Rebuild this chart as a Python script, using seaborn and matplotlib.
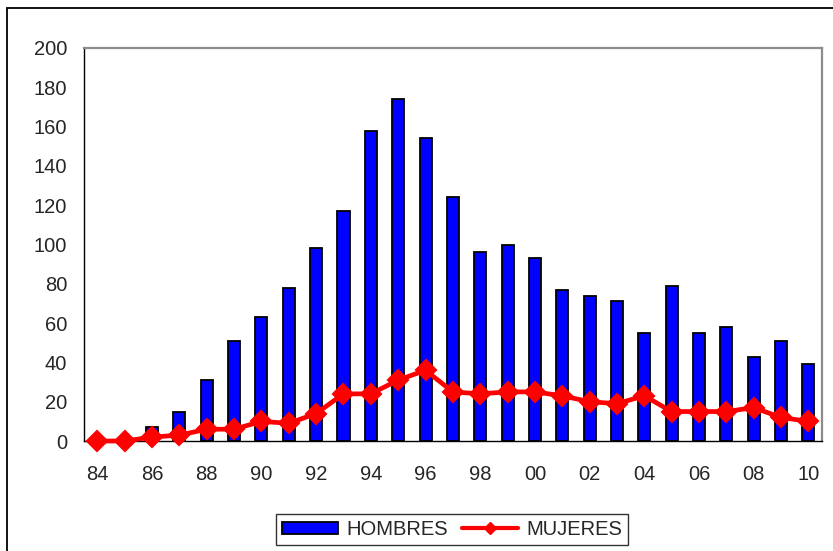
import matplotlib
matplotlib.use("Agg")
import matplotlib.pyplot as plt
import matplotlib.patches as mpatches
from matplotlib.lines import Line2D
import seaborn as sns
import pandas as pd

# ── Data ───────────────────────────────────────────────────────────────────
years = ["84", "85", "86", "87", "88", "89", "90", "91", "92", "93", "94",
         "95", "96", "97", "98", "99", "00", "01", "02", "03", "04", "05",
         "06", "07", "08", "09", "10"]
hombres = [0, 0, 7, 15, 31, 51, 63, 78, 98, 117, 158, 174, 154, 124, 96,
           100, 93, 77, 74, 71, 55, 79, 55, 58, 43, 51, 39]
mujeres = [0, 0, 2, 3, 6, 6, 10, 9, 14, 24, 24, 31, 36, 25, 24, 25, 25,
           23, 20, 19, 23, 15, 15, 15, 17, 12, 10]
yticks = list(range(0, 201, 20))

# ── Style ──────────────────────────────────────────────────────────────────
sns.set_style("white")
plt.rcParams["font.family"] = ["Liberation Sans", "DejaVu Sans"]
FS = 14.5
BLUE = "#0000FF"
RED = "#FF0000"

df = pd.DataFrame({"year": years, "HOMBRES": hombres, "MUJERES": mujeres})

fig = plt.figure(figsize=(8.33, 5.51), dpi=100)
ax = fig.add_axes([0.1005, 0.1996, 0.8863, 0.7133])

sns.barplot(data=df, x="year", y="HOMBRES", ax=ax, color=BLUE,
            saturation=1, width=0.44, edgecolor="black", linewidth=1.3)
sns.pointplot(data=df, x="year", y="MUJERES", ax=ax, color=RED,
              marker="D", markersize=9.5, linewidth=3.4, errorbar=None)
for ln in ax.lines:
    ln.set_clip_on(False)
    ln.set_zorder(5)

ax.set_xlim(-0.5, len(years) - 0.5)
ax.set_ylim(0, 200)
ax.set_yticks(yticks)
ax.set_yticklabels([str(t) for t in yticks], fontsize=FS)
ax.set_xlabel("")
ax.set_ylabel("")

# category ticks at boundaries, labels every other year
ax.set_xticks([i - 0.5 for i in range(len(years) + 1)])
ax.set_xticklabels([])
ax.set_xticks(range(0, len(years), 2), minor=True)
ax.set_xticklabels(years[::2], minor=True, fontsize=FS)
ax.tick_params(axis="x", which="major", direction="inout", length=8,
               width=0.8, color="black")
ax.tick_params(axis="x", which="minor", length=0, pad=17)
ax.tick_params(axis="y", direction="inout", length=8, width=0.8,
               color="black", pad=8)

for side in ["left", "bottom"]:
    ax.spines[side].set_color("black")
    ax.spines[side].set_linewidth(1.0)
for side in ["top", "right"]:
    ax.spines[side].set_color("#8C8C8C")
    ax.spines[side].set_linewidth(1.6)

# figure frame
fig.patches.append(mpatches.Rectangle((0.0084, -0.05), 1.1, 1.0355,
                                      transform=fig.transFigure,
                                      fill=False, edgecolor="black",
                                      linewidth=1.3))

handles = [mpatches.Patch(facecolor=BLUE, edgecolor="black", linewidth=1.3),
           Line2D([], [], color=RED, linewidth=3, marker="D", markersize=6.5)]
leg = fig.legend(handles, ["HOMBRES", "MUJERES"], loc="center",
                 bbox_to_anchor=(0.5426, 0.039), ncol=2, fontsize=FS,
                 frameon=True, fancybox=False, handlelength=2.8,
                 handleheight=0.6, handletextpad=0.4, columnspacing=0.7,
                 borderpad=0.3, borderaxespad=0)
leg.get_frame().set_edgecolor("black")
leg.get_frame().set_linewidth(1.0)

plt.savefig("out.png", dpi=100)
plt.close()
